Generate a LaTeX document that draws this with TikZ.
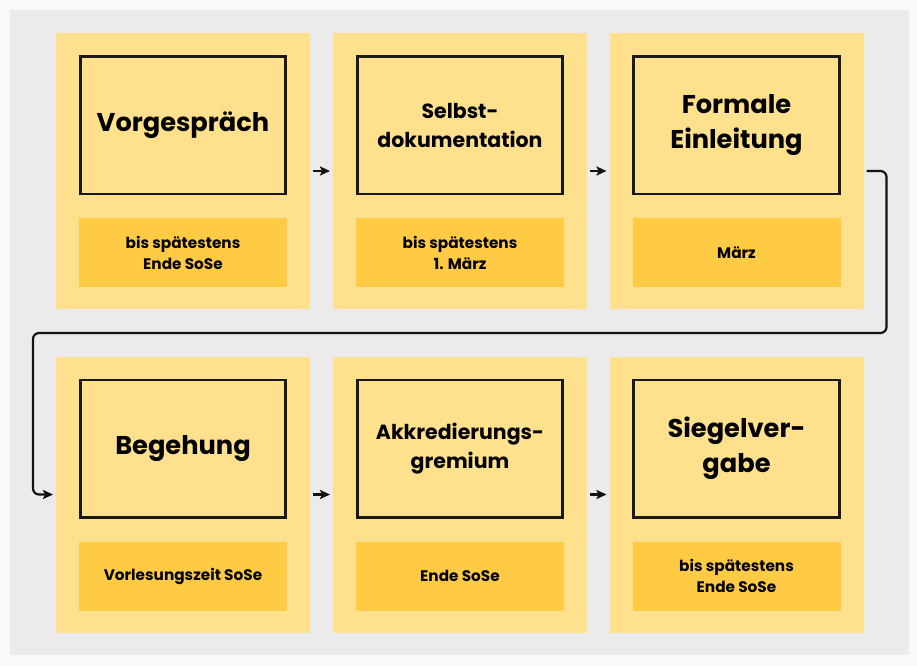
\documentclass[tikz,border=0pt]{standalone}
\usepackage{fontspec}
\setmainfont{Poppins}
\usetikzlibrary{arrows.meta,positioning}

\definecolor{panelgrey}{HTML}{EBEBEB}
\definecolor{pagewhite}{HTML}{F9F9F9}
\definecolor{cardyellow}{HTML}{FFE08C}
\definecolor{dateyellow}{HTML}{FFCB45}

\begin{document}
\begin{tikzpicture}[x=1pt, y=-1pt,
	phase/.style  = {rectangle, fill=cardyellow, minimum width=254pt, minimum height=276pt, outer sep=0pt},
	title/.style  = {rectangle, draw=black!90, line width=2.7pt, minimum width=205.5pt, minimum height=137.5pt, outer sep=1.35pt, align=center, font=\bfseries},
	big/.style    = {title, font=\fontsize{25.7}{35}\selectfont\bfseries},
	small/.style  = {title, font=\fontsize{20.5}{29}\selectfont\bfseries},
	date/.style   = {rectangle, fill=dateyellow, minimum width=208pt, minimum height=69pt, outer sep=0pt, align=center, font=\fontsize{15.3}{21}\selectfont\bfseries},
	flow/.style   = {-{Stealth[length=10pt, width=9pt, inset=2pt]}, line width=2.2pt, draw=black!93, shorten <=3pt, shorten >=3pt},
	]

	% page and panel
	\fill[pagewhite] (0,0) rectangle (917,666);
	\fill[panelgrey] (10,10) rectangle (909,655);

	% cards
	\node[phase] (c1) at (183,171) {};
	\node[phase] (c2) at (460,171) {};
	\node[phase] (c3) at (736.5,171) {};
	\node[phase] (c4) at (183,494.5) {};
	\node[phase] (c5) at (460,494.5) {};
	\node[phase] (c6) at (736.5,494.5) {};

	% titles
	\node[big,   below=22pt of c1.north] (t1) {Vorgespräch};
	\node[small, below=22pt of c2.north] (t2) {Selbst-\\dokumentation};
	\node[big,   below=22pt of c3.north] (t3) {Formale\\Einleitung};
	\node[big,   below=22pt of c4.north] (t4) {Begehung};
	\node[small, below=22pt of c5.north] (t5) {Akkredierungs-\\gremium};
	\node[big,   below=22pt of c6.north] (t6) {Siegelver-\\gabe};

	% dates
	\node[date, below=23pt of t1] (d1) {bis spätestens\\Ende SoSe};
	\node[date, below=23pt of t2] (d2) {bis spätestens\\1. März};
	\node[date, below=23pt of t3] (d3) {März};
	\node[date, below=23pt of t4] (d4) {Vorlesungszeit SoSe};
	\node[date, below=23pt of t5] (d5) {Ende SoSe};
	\node[date, below=23pt of t6] (d6) {bis spätestens\\Ende SoSe};

	\foreach \a/\b in {1/2,2/3,4/5,5/6}
	\draw[flow] (c\a.east) -- (c\b.west);

	\coordinate (back) at (33,333);
	\draw[flow, rounded corners=6pt] (c3.east) -- ++(23,0) |- (back) |- (c4.west);

\end{tikzpicture}
\end{document}
